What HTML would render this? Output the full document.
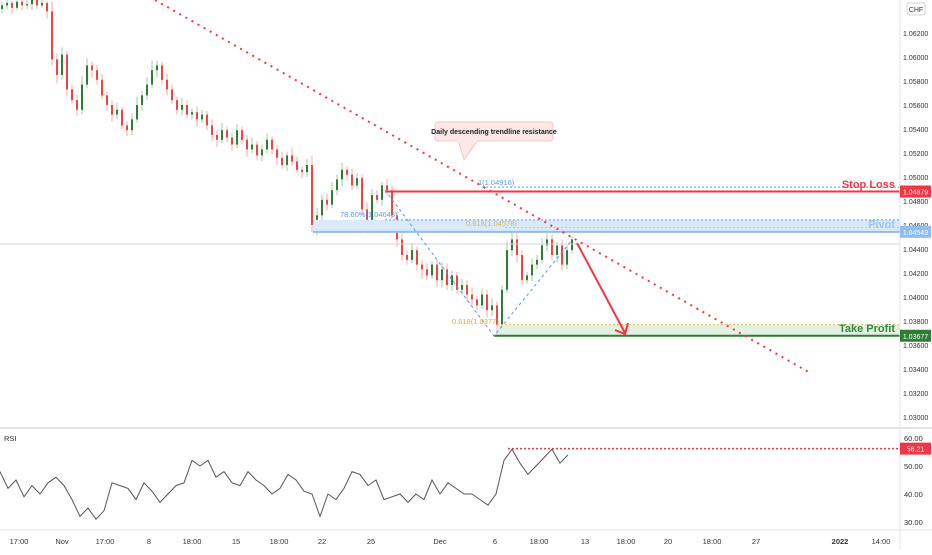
<!DOCTYPE html>
<html><head><meta charset="utf-8">
<style>
body{margin:0;background:#fff;width:932px;height:550px;overflow:hidden;font-family:"Liberation Sans",sans-serif;}
svg text{font-family:"Liberation Sans",sans-serif;}
</style></head>
<body>
<svg id="chart" width="932" height="550" viewBox="0 0 932 550" xmlns="http://www.w3.org/2000/svg">
<rect x="0" y="0" width="932" height="550" fill="#fff"/>
<g id="grid"></g>
<g id="candles"></g>
<g id="ann"></g>
<g id="rsi"></g>
<g id="axes"></g>
</svg>
<script>
const closes=[1.0643,1.0645,1.0641,1.0646,1.0643,1.0644,1.0648,1.0643,1.0645,1.0638,
1.0598,1.0585,1.0602,1.0573,1.0564,1.0556,1.0577,1.0593,1.0589,1.0581,
1.0568,1.0560,1.0552,1.0556,1.0543,1.0539,1.0548,1.0560,1.0568,1.0577,
1.0589,1.0593,1.0581,1.0573,1.0564,1.0556,1.0560,1.0552,1.0554,1.0548,
1.0552,1.0543,1.0535,1.0531,1.0539,1.0533,1.0527,1.0539,1.0531,1.0523,
1.0527,1.0518,1.0523,1.0531,1.0523,1.0516,1.0510,1.0518,1.0513,1.0506,
1.0504,1.0510,1.0460,1.0468,1.0481,1.0477,1.0489,1.0498,1.0506,1.0502,
1.0493,1.0499,1.0473,1.0460,1.0485,1.0481,1.0493,1.0489,1.0468,1.0448,
1.0435,1.0431,1.0439,1.0427,1.0423,1.0418,1.0427,1.0414,1.0423,1.0410,
1.0418,1.0406,1.0410,1.0402,1.0398,1.0393,1.0402,1.0389,1.0393,1.0377,
1.0406,1.0439,1.0448,1.0435,1.0414,1.0418,1.0427,1.0431,1.0443,1.0448,
1.0435,1.0443,1.0427,1.0439,1.0448];
const wickUp=[3,5,2,4,3,6,2,3,4,2,8,5,6,3,4,5,7,6,3,4,5,3,4,6,2,3,5,7,4,6,8,4,3,5,4,3,6,4,3,5,4,3,5,4,6,3,4,5,3,4,6,3,4,5,3,4,5,3,6,4,3,5,8,6,4,5,7,4,6,3,5,4,3,6,5,4,3,5,4,3,5,4,6,3,4,5,3,4,6,5,4,3,5,4,6,3,5,4,6,3,4,8,6,5,4,3,5,4,6,5,4,3,5,4,3];
const wickDn=[4,3,5,2,4,3,5,3,2,6,5,7,4,6,3,5,4,3,6,4,3,5,6,4,3,5,4,3,5,4,3,6,4,5,3,4,5,3,4,6,3,4,5,6,3,4,5,3,4,6,3,4,5,3,4,6,3,5,4,3,5,4,6,8,4,5,3,4,6,5,4,3,5,7,4,3,5,4,3,6,5,4,3,5,8,4,3,5,6,4,5,3,4,6,5,4,3,6,5,9,4,3,5,6,4,3,5,4,3,5,4,6,5,4,3];
const rsiVals=[48,42,45,39,43,40,44,46,43,38,32,35,31,34,44,43,42,38,44,41,37,40,43,44,52,50,52,46,48,44,43,48,45,43,40,42,47,45,41,40,32,40,38,42,48,47,43,45,38,39,40,37,40,38,45,40,44,42,40,40,38,36,40,52,56,51,47,50,53,56,51,54];
const priceTicks=["1.06200","1.06000","1.05800","1.05600","1.05400","1.05200","1.05000","1.04800","1.04600","1.04400","1.04200","1.04000","1.03800","1.03600","1.03400","1.03200","1.03000"];
const rsiTicks=[60,50,40,30];
const timeLabels=["17:00","Nov","17:00","8","18:00","15","18:00","22","25","Dec","6","18:00","13","18:00","20","18:00","27","2022","14:00"];
const timeX=[19,62,105,149,192,236,279,322,371,440,495,539,585,626,668,712,756,840,881];
const levels={stop:1.04879,pivot:1.04543,take:1.03677,fib1:1.04916,fib786:1.04643,fib618a:1.04578,fib618b:1.0377,rsiLast:56.21};

const NS="http://www.w3.org/2000/svg";
function el(tag,attrs,parent,txt){const e=document.createElementNS(NS,tag);for(const k in attrs)e.setAttribute(k,attrs[k]);if(txt!==undefined)e.textContent=txt;(parent||document.getElementById('chart')).appendChild(e);return e;}
const py=p=>33+(1.062-p)*12000;
const cx=i=>2+i*5;
const ry=v=>438+(60-v)*2.8;
const rx=i=>i*8;

const C=document.getElementById('candles');
for(let i=0;i<closes.length;i++){
  const o=i===0?closes[0]-0.0003:closes[i-1], c=closes[i];
  const hi=Math.max(o,c)+wickUp[i]*0.0001, lo=Math.min(o,c)-wickDn[i]*0.0001;
  const up=c>=o, col=up?'#2e7d32':'#ef4444', wcol=up?'#9fcf9f':'#f7a8a8';
  const w=el('line',{x1:cx(i),x2:cx(i),y1:py(hi),y2:py(lo),stroke:wcol,'stroke-width':1},C);
  
  
  const b=el('rect',{x:cx(i)-1,y:Math.min(py(o),py(c)),width:2,height:Math.max(1,Math.abs(py(o)-py(c))),fill:col},C);
  
  
}

const A=document.getElementById('ann');
el('line',{x1:0,x2:900,y1:244,y2:244,stroke:'#cfd8cf','stroke-width':1},A);
el('rect',{x:313,y:py(levels.fib786),width:587,height:py(levels.pivot)-py(levels.fib786),fill:'#dbeafb'},A);
el('line',{x1:313,x2:900,y1:py(levels.pivot),y2:py(levels.pivot),stroke:'#90bdf0','stroke-width':2},A);
el('line',{x1:385,x2:900,y1:py(levels.fib786),y2:py(levels.fib786),stroke:'#5b9be6','stroke-width':1,'stroke-dasharray':'2,2'},A);
el('line',{x1:505,x2:900,y1:py(levels.fib618a),y2:py(levels.fib618a),stroke:'#e8c552','stroke-width':1,'stroke-dasharray':'2,2'},A);
el('text',{x:340,y:217,'font-size':7.5,fill:'#5b9be6'},A,'78.60%(1.04643)');
el('text',{x:466,y:226,'font-size':7.5,fill:'#e0b84a'},A,'0.618(1.04578)');
const pv=el('text',{x:895,y:228,'font-size':11,fill:'#9ec6f2','text-anchor':'end','font-weight':'bold'},A,'Pivot');

el('line',{x1:482,x2:900,y1:py(levels.fib1),y2:py(levels.fib1),stroke:'#5b9be6','stroke-width':1,'stroke-dasharray':'2,2'},A);
el('text',{x:478,y:185,'font-size':7.5,fill:'#5b9be6'},A,'1(1.04916)');
el('line',{x1:385,x2:900,y1:py(levels.stop),y2:py(levels.stop),stroke:'#f23645','stroke-width':2},A);
const sl=el('text',{x:895,y:188,'font-size':11,fill:'#f23645','text-anchor':'end','font-weight':'bold'},A,'Stop Loss');

el('rect',{x:497,y:py(levels.fib618b),width:403,height:py(levels.take)-py(levels.fib618b),fill:'#e3f1e3'},A);
el('line',{x1:497,x2:900,y1:py(levels.fib618b),y2:py(levels.fib618b),stroke:'#e8c552','stroke-width':1,'stroke-dasharray':'2,2'},A);
el('line',{x1:494,x2:900,y1:py(levels.take),y2:py(levels.take),stroke:'#2e7d32','stroke-width':2},A);
el('text',{x:452,y:324,'font-size':7.5,fill:'#f0a830'},A,'0.618(1.0377)');
const tp=el('text',{x:895,y:332,'font-size':11,fill:'#2e8b3e','text-anchor':'end','font-weight':'bold'},A,'Take Profit');

el('polyline',{points:'385,190 494,336 572,240',fill:'none',stroke:'#5b9be6','stroke-width':1,'stroke-dasharray':'3,3'},A);
const tl=el('line',{x1:155,y1:0,x2:812,y2:374,stroke:'#f23645','stroke-width':2,'stroke-dasharray':'2,5'},A);

el('line',{x1:577,y1:243,x2:625,y2:333,stroke:'#f23645','stroke-width':2},A);
el('polyline',{points:'615,330 625,334 628,323',fill:'none',stroke:'#f23645','stroke-width':2},A);
el('path',{d:'M458,140 L464,160 L478,140 Z',fill:'#fde8e8',stroke:'#f7c5c5'},A);
el('rect',{x:435,y:122,width:118,height:19,rx:3,fill:'#fde8e8',stroke:'#f7c5c5'},A);
el('rect',{x:457,y:139,width:20,height:3,fill:'#fde8e8'},A);
const ct=el('text',{x:494,y:134,'font-size':7,fill:'#222','text-anchor':'middle','font-weight':'bold'},A,'Daily descending trendline resistance');


const R=document.getElementById('rsi');
el('line',{x1:0,x2:932,y1:428,y2:428,stroke:'#e0e3eb','stroke-width':2},R);
el('text',{x:4,y:441,'font-size':7.5,fill:'#333'},R,'RSI');
el('line',{x1:508,x2:900,y1:ry(levels.rsiLast),y2:ry(levels.rsiLast),stroke:'#f23645','stroke-width':1.5,'stroke-dasharray':'2,2'},R);
const rl=el('polyline',{points:rsiVals.map((v,i)=>rx(i)+','+ry(v)).join(' '),fill:'none',stroke:'#555','stroke-width':1},R);


const X=document.getElementById('axes');
el('line',{x1:900,x2:900,y1:0,y2:550,stroke:'#e0e3eb','stroke-width':1},X);
el('line',{x1:0,x2:932,y1:530,y2:530,stroke:'#e0e3eb','stroke-width':1},X);
priceTicks.forEach(t=>{const e=el('text',{x:903,y:py(parseFloat(t))+3,'font-size':7,fill:'#333'},X,t);
  });
rsiTicks.forEach(t=>{const e=el('text',{x:904,y:ry(t)+3,'font-size':7.5,fill:'#333'},X,t.toFixed(2));
  });
timeLabels.forEach((t,i)=>{const e=el('text',{x:timeX[i],y:544,'font-size':7.5,fill:'#333','text-anchor':'middle','font-weight':t==='2022'?'bold':'normal'},X,t);
  });
el('rect',{x:907,y:3,width:18,height:12,rx:2,fill:'#fff',stroke:'#d0d3db'},X);
el('text',{x:916,y:12,'font-size':7,fill:'#333','text-anchor':'middle'},X,'CHF');
function tag(v,y,col,name){const g=el('g',{},X);
  el('rect',{x:900,y:y-6,width:31,height:12,fill:col},g);
  el('text',{x:915.5,y:y+3,'font-size':7,fill:'#fff','text-anchor':'middle'},g,v);}
tag(levels.stop.toFixed(5),py(levels.stop),'#f23645','stop-loss-price-tag');
tag(levels.pivot.toFixed(5),py(levels.pivot),'#90bdf0','pivot-price-tag');
tag(levels.take.toFixed(5),py(levels.take),'#2e7d32','take-profit-price-tag');
tag(levels.rsiLast.toFixed(2),ry(levels.rsiLast),'#f23645','rsi-value-tag');
</script>
</body></html>
